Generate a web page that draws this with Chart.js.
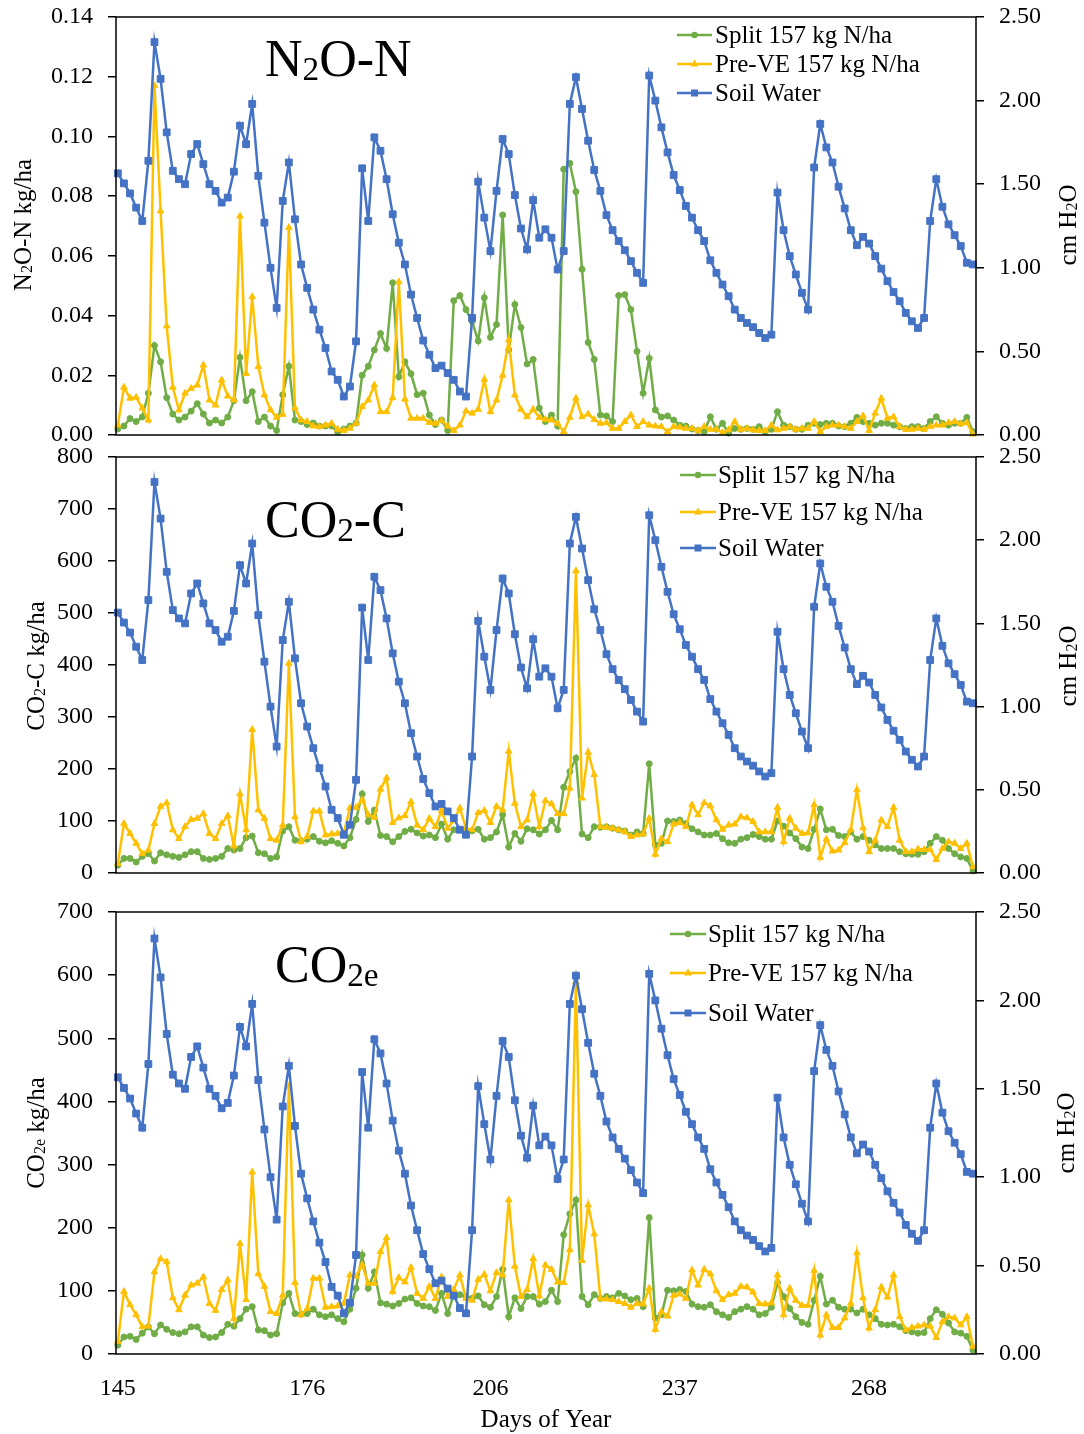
<!DOCTYPE html>
<html>
<head>
<meta charset="utf-8">
<script src="https://cdn.jsdelivr.net/npm/chart.js@4.4.1/dist/chart.umd.min.js"></script>
<style>
  html, body { margin: 0; padding: 0; background: #fff; }
  #wrap { position: relative; width: 1084px; height: 1434px; background: #fff; }
  canvas { position: absolute; left: 0; }
</style>
</head>
<body>
<div id="wrap">
  <canvas id="c1" width="1084" height="450" style="top:0px"></canvas>
  <canvas id="c2" width="1084" height="450" style="top:440px"></canvas>
  <canvas id="c3" width="1084" height="539" style="top:895px"></canvas>
</div>
<script>
// day of year, one point per day
const days = [
  145,146,147,148,149,150,151,152,153,154,155,156,157,158,159,160,161,162,163,164,
  165,166,167,168,169,170,171,172,173,174,175,176,177,178,179,180,181,182,183,184,
  185,186,187,188,189,190,191,192,193,194,195,196,197,198,199,200,201,202,203,204,
  205,206,207,208,209,210,211,212,213,214,215,216,217,218,219,220,221,222,223,224,
  225,226,227,228,229,230,231,232,233,234,235,236,237,238,239,240,241,242,243,244,
  245,246,247,248,249,250,251,252,253,254,255,256,257,258,259,260,261,262,263,264,
  265,266,267,268,269,270,271,272,273,274,275,276,277,278,279,280,281,282,283,284,285
]
const xTicks = [145, 176, 206, 237, 268]

// soil water, cm H2O (same in all three panels)
const soilWater = [
  1.565,1.505,1.445,1.36,1.28,1.64,2.35,2.13,1.81,1.58,
  1.53,1.50,1.68,1.74,1.62,1.50,1.46,1.39,1.42,1.575,
  1.85,1.74,1.98,1.55,1.27,1.00,0.76,1.40,1.63,1.29,
  1.02,0.88,0.75,0.63,0.52,0.38,0.33,0.23,0.29,0.56,
  1.595,1.28,1.78,1.70,1.53,1.32,1.15,1.02,0.84,0.70,
  0.565,0.48,0.40,0.415,0.37,0.33,0.26,0.23,0.70,1.515,
  1.30,1.10,1.46,1.77,1.68,1.435,1.235,1.11,1.405,1.18,
  1.23,1.18,0.99,1.10,1.98,2.14,1.95,1.76,1.585,1.46,
  1.315,1.225,1.16,1.105,1.04,0.97,0.91,2.15,2.00,1.84,
  1.69,1.555,1.465,1.37,1.30,1.225,1.16,1.045,0.97,0.90,
  0.83,0.75,0.70,0.67,0.645,0.61,0.58,0.60,1.45,1.225,
  1.07,0.96,0.85,0.75,1.60,1.86,1.72,1.63,1.485,1.355,
  1.225,1.135,1.185,1.145,1.07,0.995,0.92,0.855,0.80,0.73,
  0.68,0.64,0.70,1.28,1.53,1.365,1.26,1.195,1.13,1.03,
  1.02
]

// N2O-N kg/ha
const n2oSplit = [
  0.002,0.003,0.0055,0.0045,0.006,0.014,0.030,0.0245,0.0125,0.007,
  0.005,0.006,0.008,0.0105,0.007,0.004,0.005,0.004,0.006,0.0115,
  0.026,0.0115,0.0145,0.0045,0.006,0.003,0.0015,0.0135,0.023,0.005,
  0.0045,0.0035,0.004,0.003,0.003,0.003,0.001,0.002,0.003,0.004,
  0.020,0.023,0.0285,0.034,0.029,0.051,0.0195,0.0245,0.0205,0.0135,
  0.014,0.0067,0.0035,0.005,0.0015,0.045,0.0467,0.042,0.038,0.0315,
  0.046,0.0327,0.037,0.0737,0.0285,0.0437,0.036,0.0238,0.0253,0.009,
  0.0045,0.0067,0.003,0.089,0.091,0.0815,0.0555,0.031,0.0253,0.0067,
  0.0064,0.0045,0.0467,0.047,0.042,0.028,0.014,0.0257,0.0084,0.006,
  0.0064,0.005,0.0033,0.003,0.002,0.0015,0.0011,0.0061,0.0019,0.0039,
  0.0006,0.0022,0.0019,0.0022,0.0019,0.0028,0.0011,0.0019,0.0078,0.0033,
  0.0028,0.0019,0.0019,0.0033,0.0039,0.0035,0.0039,0.0039,0.003,0.0028,
  0.0039,0.0059,0.0045,0.0039,0.0033,0.0039,0.0039,0.0033,0.0028,0.0022,
  0.0028,0.0028,0.0022,0.0045,0.0061,0.0039,0.0033,0.0039,0.0039,0.0059,
  0.0011
]
const n2oPreVE = [
  0.0033,0.016,0.0123,0.0126,0.009,0.005,0.117,0.075,0.0365,0.016,
  0.0084,0.014,0.0156,0.0167,0.0234,0.0117,0.010,0.0184,0.013,0.0117,
  0.0733,0.0206,0.0463,0.0229,0.0134,0.0084,0.0059,0.0069,0.0695,0.009,
  0.005,0.0045,0.003,0.0028,0.0033,0.0039,0.0019,0.0015,0.0022,0.0039,
  0.0095,0.0117,0.0167,0.0078,0.0078,0.0125,0.0513,0.012,0.0056,0.0056,
  0.0056,0.0042,0.0039,0.0048,0.003,0.0015,0.0033,0.008,0.0073,0.0086,
  0.0186,0.0078,0.0117,0.020,0.0318,0.0134,0.0086,0.0061,0.0086,0.0059,
  0.0052,0.005,0.0039,0.0011,0.0059,0.0123,0.0061,0.007,0.0052,0.0039,
  0.0041,0.0022,0.0022,0.0045,0.0067,0.0028,0.0045,0.0033,0.003,0.0028,
  0.0011,0.0028,0.0026,0.0022,0.0022,0.0015,0.0028,0.0019,0.0019,0.0008,
  0.0017,0.0045,0.0019,0.0022,0.0017,0.0015,0.0015,0.0033,0.0017,0.0022,
  0.0028,0.0019,0.0022,0.0022,0.0045,0.0011,0.0028,0.0033,0.0033,0.0028,
  0.0022,0.0045,0.0064,0.0015,0.0073,0.0123,0.0056,0.0061,0.0028,0.0019,
  0.0019,0.0022,0.0019,0.0028,0.0033,0.0033,0.0041,0.0045,0.0037,0.0041,
  0.0003
]

// CO2-C kg/ha
const co2Split = [
  15,28,28,21,32,37,23,39,35,32,
  30,35,41,41,28,26,28,32,47,44,
  47,68,71,39,37,28,31,81,89,63,
  62,65,70,61,58,62,57,52,68,103,
  152,99,121,72,70,60,70,80,84,77,
  71,73,68,94,65,83,83,79,81,84,
  65,68,79,112,50,76,61,85,83,75,
  83,101,83,165,195,221,75,68,89,88,
  89,86,83,81,73,79,76,210,54,57,
  100,99,102,95,85,79,73,73,76,66,
  58,57,65,68,74,70,65,65,100,90,
  77,66,50,47,84,123,83,84,72,70,
  79,65,70,63,54,47,47,47,41,37,
  36,36,41,57,70,63,47,37,31,28,
  4
]
const co2PreVE = [
  18,95,76,57,37,44,95,128,135,83,
  66,89,103,105,114,76,66,95,110,52,
  152,83,276,121,105,66,63,92,403,108,
  60,70,119,119,73,75,76,77,125,126,
  141,112,107,161,183,97,106,110,137,92,
  83,105,89,120,86,101,125,86,83,116,
  120,97,128,121,234,134,89,102,152,89,
  139,133,114,114,163,581,144,232,189,89,
  88,86,83,79,70,73,75,105,36,66,
  60,94,97,89,131,112,135,129,102,84,
  92,94,108,106,99,79,79,79,126,60,
  105,86,76,77,131,30,65,42,44,58,
  83,160,87,41,63,102,89,126,63,41,
  41,46,45,45,26,47,60,57,47,57,
  12
]

// CO2e kg/ha
const co2eSplit = [
  14,27,28,23,33,43,32,46,39,34,
  32,35,43,43,30,26,27,34,47,44,
  56,71,75,38,37,30,32,81,96,64,
  63,64,71,62,59,62,56,51,71,104,
  157,104,130,81,79,76,80,87,89,80,
  76,75,69,96,64,94,94,91,88,92,
  78,74,91,134,59,89,72,91,91,79,
  83,101,83,189,222,244,91,78,94,88,
  91,89,96,92,86,88,75,216,57,62,
  101,100,102,99,79,75,74,78,67,62,
  58,67,71,75,71,62,64,74,113,91,
  72,59,50,47,85,123,79,85,74,71,
  71,65,71,62,56,47,46,47,43,37,
  35,33,34,56,70,63,49,35,33,28,
  6
]
const co2ePreVE = [
  20,99,78,62,43,44,130,151,146,89,
  70,93,109,112,122,80,69,102,117,56,
  175,86,288,127,107,67,64,93,424,113,
  62,72,120,120,74,75,76,80,125,123,
  141,112,112,162,184,99,121,114,137,96,
  88,107,88,122,91,102,125,88,85,118,
  126,100,129,125,244,139,91,102,151,92,
  141,134,114,113,165,589,148,236,190,88,
  87,86,83,80,74,80,79,104,39,67,
  60,93,95,88,133,109,134,127,100,86,
  94,96,107,106,98,80,79,81,125,62,
  104,85,77,77,132,30,62,42,42,57,
  80,160,89,41,70,106,90,125,59,38,
  42,44,46,44,26,51,59,57,46,59,
  12
]

const legendLabels = ['Split 157 kg N/ha', 'Pre-VE 157 kg N/ha', 'Soil Water']
const rightTicks = [0, 0.5, 1, 1.5, 2, 2.5]

const GREEN = '#70AD47', YELLOW = '#FFC000', BLUE = '#4472C4'
const FONT = "'Liberation Serif', 'Times New Roman', serif"

function drawMarker(ctx, style, x, y) {
  ctx.beginPath()
  if (style === 'rect') {
    ctx.rect(x - 3.5, y - 3.5, 7, 7)
  } else if (style === 'triangle') {
    ctx.moveTo(x, y - 4.5); ctx.lineTo(x + 4, y + 2.5); ctx.lineTo(x - 4, y + 2.5); ctx.closePath()
  } else {
    ctx.arc(x, y, 3.2, 0, Math.PI * 2)
  }
  ctx.fill()
}

// text with subscripts: parts = [[text, isSub], ...]
function rich(ctx, parts, x, y, size, align) {
  const fonts = parts.map(p => (p[1] ? size * 0.64 : size) + 'px ' + FONT)
  let w = 0
  const ws = parts.map((p, i) => { ctx.font = fonts[i]; const m = ctx.measureText(p[0]).width; w += m; return m })
  let cx = align === 'center' ? x - w / 2 : x
  ctx.textAlign = 'left'
  ctx.textBaseline = 'alphabetic'
  parts.forEach((p, i) => {
    ctx.font = fonts[i]
    ctx.fillText(p[0], cx, p[1] ? y + size * 0.07 : y)
    cx += ws[i]
  })
}

function rotated(ctx, parts, x, y, size) {
  ctx.save()
  ctx.translate(x, y)
  ctx.rotate(-Math.PI / 2)
  rich(ctx, parts, 0, size * 0.34, size, 'center')
  ctx.restore()
}

const deco = {
  id: 'deco',
  afterDraw(chart, args, o) {
    const ctx = chart.ctx, a = chart.chartArea, off = o.top
    ctx.save()
    ctx.strokeStyle = '#000'
    ctx.lineWidth = 1.5
    ctx.strokeRect(a.left, a.top, a.right - a.left, a.bottom - a.top)
    ctx.fillStyle = '#000'
    rich(ctx, o.title, o.titleX, o.titleY - off, 52, 'left')
    rotated(ctx, o.leftTitle, o.leftX, o.midY - off, 25)
    rotated(ctx, o.rightTitle, o.rightX, o.midY - off, 25)
    if (o.xTitle) {
      ctx.font = '25px ' + FONT
      ctx.textAlign = 'center'
      ctx.textBaseline = 'middle'
      ctx.fillText(o.xTitle, (a.left + a.right) / 2, 1420 - off)
    }
    // legend
    const L = o.legend
    const items = [[GREEN, 'circle'], [YELLOW, 'triangle'], [BLUE, 'rect']]
    items.forEach((it, i) => {
      const y = L.rows[i] - off
      ctx.strokeStyle = it[0]
      ctx.fillStyle = it[0]
      ctx.lineWidth = 2.5
      ctx.beginPath(); ctx.moveTo(L.x0, y); ctx.lineTo(L.x1, y); ctx.stroke()
      drawMarker(ctx, it[1], (L.x0 + L.x1) / 2, y)
      ctx.fillStyle = '#000'
      ctx.font = '25px ' + FONT
      ctx.textAlign = 'left'
      ctx.textBaseline = 'middle'
      ctx.fillText(legendLabels[i], L.tx, y + 1)
    })
    ctx.restore()
  }
}

function series(vals, color, style, r, axis) {
  return {
    data: days.map((d, i) => ({ x: d, y: vals[i] })),
    yAxisID: axis,
    borderColor: color,
    backgroundColor: color,
    pointBackgroundColor: color,
    pointBorderColor: color,
    pointStyle: style,
    pointRadius: r,
    pointBorderWidth: 1,
    borderWidth: 2.5,
    tension: 0,
    clip: false
  }
}

// keep the plot box where the reference has it: no extra room for the end labels
function fixY(width) {
  return s => { s.width = width; s.paddingTop = 0; s.paddingBottom = 0 }
}

function makePanel(id, p) {
  const tickFont = { family: FONT, size: 24 }
  new Chart(document.getElementById(id), {
    type: 'line',
    data: {
      datasets: [
        series(soilWater, BLUE, 'rect', 4.8, 'y1'),
        series(p.preve, YELLOW, 'triangle', 3.8, 'y'),
        series(p.split, GREEN, 'circle', 3, 'y')
      ]
    },
    options: {
      responsive: false,
      animation: false,
      events: [],
      layout: { padding: { top: 17, left: 0, right: 0, bottom: 0 } },
      plugins: { legend: { display: false }, tooltip: { enabled: false }, deco: p.deco },
      scales: {
        x: {
          type: 'linear', min: 144.7, max: 285.5,
          afterBuildTicks: s => { s.ticks = xTicks.map(v => ({ value: v })) },
          grid: { display: false, drawTicks: false },
          border: { display: false },
          ticks: { display: p.showX, font: tickFont, color: '#000', padding: 20, maxRotation: 0, autoSkip: false },
          afterFit: s => { s.height = p.xHeight; s.paddingLeft = 0; s.paddingRight = 0 }
        },
        y: {
          position: 'left', min: 0, max: p.max,
          ticks: { stepSize: p.step, font: tickFont, color: '#000', padding: 15, callback: p.fmt },
          grid: { drawOnChartArea: false, color: '#000', lineWidth: 1.5, tickLength: 8 },
          border: { display: false },
          afterFit: fixY(116)
        },
        y1: {
          position: 'right', min: 0, max: 2.5,
          afterBuildTicks: s => { s.ticks = rightTicks.map(v => ({ value: v })) },
          ticks: { font: tickFont, color: '#000', padding: 15, callback: v => Number(v).toFixed(2) },
          grid: { drawOnChartArea: false, color: '#000', lineWidth: 1.5, tickLength: 8 },
          border: { display: false },
          afterFit: fixY(108)
        }
      }
    },
    plugins: [deco]
  })
}

makePanel('c1', {
  split: n2oSplit, preve: n2oPreVE, max: 0.14, step: 0.02,
  fmt: v => Number(v).toFixed(2), showX: false, xHeight: 15,
  deco: {
    top: 0,
    title: [['N', 0], ['2', 1], ['O-N', 0]], titleX: 265, titleY: 76,
    leftTitle: [['N', 0], ['2', 1], ['O-N kg/ha', 0]], leftX: 22,
    rightTitle: [['cm H', 0], ['2', 1], ['O', 0]], rightX: 1067, midY: 225,
    legend: { x0: 677, x1: 712, tx: 715, rows: [35, 64, 93] }
  }
})

makePanel('c2', {
  split: co2Split, preve: co2PreVE, max: 800, step: 100,
  fmt: v => v, showX: false, xHeight: 17,
  deco: {
    top: 440,
    title: [['CO', 0], ['2', 1], ['-C', 0]], titleX: 265, titleY: 537,
    leftTitle: [['CO', 0], ['2', 1], ['-C kg/ha', 0]], leftX: 35,
    rightTitle: [['cm H', 0], ['2', 1], ['O', 0]], rightX: 1067, midY: 666,
    legend: { x0: 680, x1: 716, tx: 718, rows: [475, 512, 548] }
  }
})

makePanel('c3', {
  split: co2eSplit, preve: co2ePreVE, max: 700, step: 100,
  fmt: v => v, showX: true, xHeight: 80,
  deco: {
    top: 895,
    title: [['CO', 0], ['2e', 1]], titleX: 275, titleY: 982,
    leftTitle: [['CO', 0], ['2e', 1], [' kg/ha', 0]], leftX: 35,
    rightTitle: [['cm H', 0], ['2', 1], ['O', 0]], rightX: 1065, midY: 1133,
    xTitle: 'Days of Year',
    legend: { x0: 670, x1: 706, tx: 708, rows: [934, 973, 1013] }
  }
})
</script>
</body>
</html>
